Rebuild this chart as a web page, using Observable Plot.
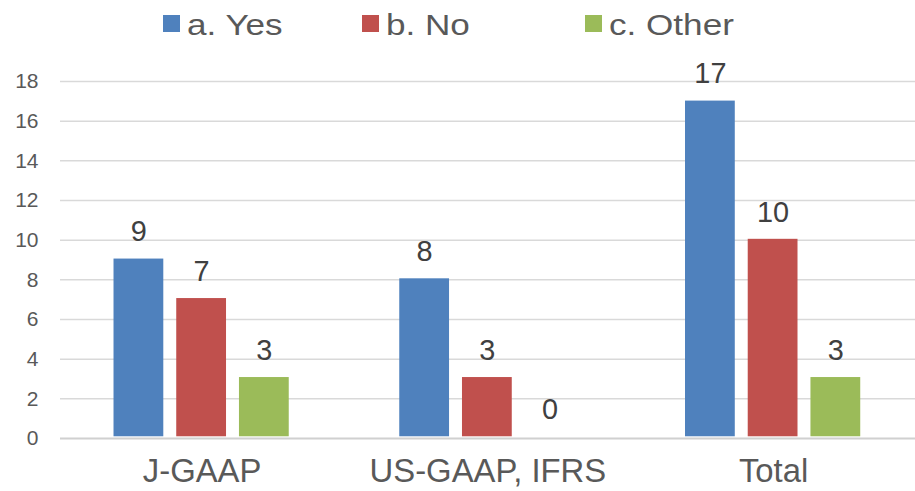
<!DOCTYPE html>
<html>
<head>
<meta charset="utf-8">
<script src="https://cdn.jsdelivr.net/npm/d3@7"></script>
<script src="https://cdn.jsdelivr.net/npm/@observablehq/plot@0.6"></script>
<style>
  html, body { margin: 0; padding: 0; background: #fff; }
  #wrap { position: relative; width: 915px; height: 491px; overflow: hidden; font-family: "Liberation Sans", Arial, sans-serif; }
  #legend { position: absolute; left: 0; top: 0; width: 915px; height: 45px; }
  .li { position: absolute; top: 0; height: 45px; }
  .sw { position: absolute; top: 15px; left: 0; width: 17px; height: 17px; }
  .lt { position: absolute; left: 24px; top: 7px; font-family: "Liberation Sans", Arial, sans-serif; font-size: 30px; line-height: 36px; color: #595959; white-space: nowrap; transform: scaleX(1.17); transform-origin: left center; }
  #chart { position: absolute; left: 0; top: 45px; width: 915px; height: 446px; overflow: hidden; }
  #chart > svg { position: absolute; left: 0; top: 0; }
</style>
</head>
<body>
<div id="wrap">
  <div id="legend"></div>
  <div id="chart"></div>
</div>
<script>
// ---- data ----
const categories = ["J-GAAP", "US-GAAP, IFRS", "Total"];
const series = ["a. Yes", "b. No", "c. Other"];
const colors = ["#4f81bd", "#c0504d", "#9bbb59"];
const yesValues = [9, 8, 17];
const noValues = [7, 3, 10];
const otherValues = [3, 0, 3];
const yTicks = [0, 2, 4, 6, 8, 10, 12, 14, 16, 18];

const valuesBySeries = [yesValues, noValues, otherValues];
const data = [];
categories.forEach((c, i) => {
  series.forEach((s, j) => data.push({cat: c, series: s, value: valuesBySeries[j][i]}));
});

// ---- legend ----
const legendLeft = [163, 362, 585];
const legend = document.getElementById("legend");
series.forEach((s, i) => {
  const item = document.createElement("div");
  item.className = "li";
  item.style.left = legendLeft[i] + "px";
  const sw = document.createElement("div");
  sw.className = "sw";
  sw.style.background = colors[i];
  const t = document.createElement("div");
  t.className = "lt";
  t.textContent = s;
  item.appendChild(sw);
  item.appendChild(t);
  legend.appendChild(item);
});

const H = 446;
const margins = {marginLeft: 60, marginRight: 0, marginTop: 36, marginBottom: 53};

// ---- background: grid + y axis ----
const bg = Plot.plot({
  width: 915, height: H, ...margins,
  style: {background: "white", fontFamily: "Liberation Sans, Arial, sans-serif"},
  y: {domain: [0, 18], axis: null},
  marks: [
    Plot.ruleY(yTicks.filter(d => d > 0), {stroke: "#d9d9d9", strokeWidth: 1.5}),
    Plot.ruleY([0], {stroke: "#d0d0d0", strokeWidth: 2}),
    Plot.axisY(yTicks, {tickSize: 0, tickPadding: 22, fontSize: 21, fill: "#595959", label: null})
  ]
});

// ---- bars ----
const fg = Plot.plot({
  width: 919, height: H, ...margins,
  style: {background: "transparent", fontFamily: "Liberation Sans, Arial, sans-serif"},
  y: {domain: [0, 18], axis: null},
  x: {domain: series, paddingInner: 0.2, paddingOuter: 0, axis: null},
  fx: {domain: categories, paddingInner: 0.383, paddingOuter: 0.188, label: null},
  color: {domain: series, range: colors},
  marks: [
    Plot.barY(data, {fx: "cat", x: "series", y: "value", fill: "series"}),
    Plot.text(data, {fx: "cat", x: "series", y: "value", text: d => String(d.value), dy: -27, fontSize: 29, fill: "#404040"}),
    Plot.axisFx({anchor: "bottom", tickSize: 0, tickPadding: 22, fontSize: 33, fill: "#595959", label: null})
  ]
});

const chart = document.getElementById("chart");
chart.appendChild(bg);
chart.appendChild(fg);
</script>
</body>
</html>
